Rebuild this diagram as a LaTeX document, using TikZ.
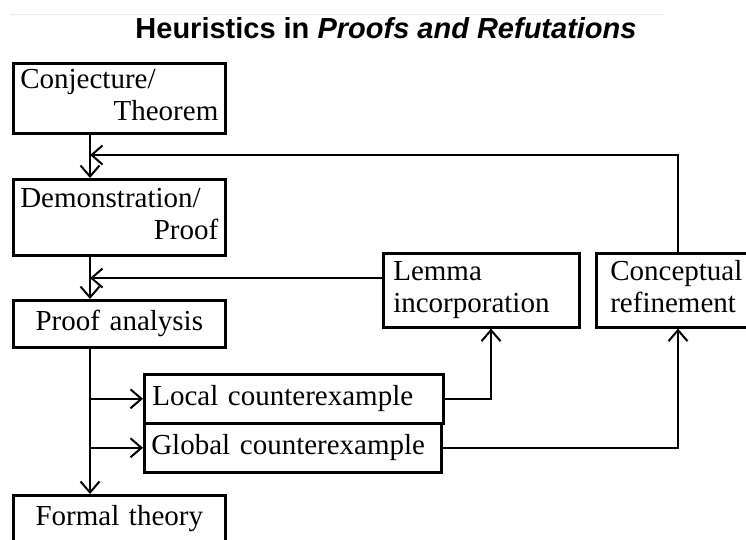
\documentclass[tikz,border=0pt]{standalone}
\usepackage{fontspec}
\setmainfont{Liberation Serif}
\newfontfamily\titlefont{Liberation Sans}
\usetikzlibrary{arrows.meta,calc}
\begin{document}
\begin{tikzpicture}[x=1pt,y=-1pt,
  box/.style={draw, line width=2.6pt, anchor=north west, inner xsep=7pt, inner ysep=0pt,
    font=\fontsize{29}{32}\selectfont},
  conn/.style={line width=2.4pt},
  arr/.style={conn, -{Straight Barb[length=11pt,width=19pt,line width=2pt]}}]
\useasboundingbox (0,0) rectangle (746,539);
\clip (0,0) rectangle (746,539);
% faint rule and title
\draw[black!8, line width=1pt] (10,14) -- (665,14);
\node[font=\titlefont\bfseries\fontsize{29}{32}\selectfont, inner sep=0pt] (title) at (386,28)
  {Heuristics in \textit{Proofs and Refutations}};
% boxes
\node[box, minimum width=212pt, minimum height=70pt, text width=198pt, align=left] (conj) at (12,62)
  {Conjecture/\strut\\\hspace*{\fill}Theorem\strut};
\node[box, minimum width=212pt, minimum height=76pt, text width=198pt, align=left] (demo) at (12,178)
  {Demonstration/\strut\\\hspace*{\fill}Proof\strut};
\node[box, minimum width=212pt, minimum height=47pt, text width=198pt, align=center] (pa) at (12,299)
  {Proof analysis\strut};
\node[box, minimum width=297pt, minimum height=49pt, text width=283pt, align=left, inner xsep=8pt] (local) at (143,373)
  {Local counterexample\strut};
\node[box, minimum width=297pt, minimum height=49pt, text width=283pt, align=left, inner xsep=6pt] (global) at (143,422)
  {Global counterexample\strut};
\node[box, minimum width=212pt, minimum height=48pt, text width=198pt, align=center] (formal) at (12,494)
  {Formal theory\strut};
\node[box, minimum width=190pt, minimum height=74pt, text width=176pt, align=left, inner xsep=10pt] (lemma) at (382,252)
  {Lemma\strut\\incorporation\strut};
\node[box, minimum width=166pt, minimum height=74pt, text width=152pt, align=left, inner xsep=14pt] (concept) at (595,252)
  {Conceptual\strut\\refinement\strut};
% helper coordinates
\coordinate (spine) at (90,0);
\coordinate (fb) at (0,155);
\coordinate (lx) at (491,0);
\coordinate (cx) at (678,0);
\coordinate (lemin) at ($(lemma.north west)!0.34!(lemma.south west)$);
% main spine
\draw[arr] (conj.south -| spine) -- (demo.north -| spine);
\draw[arr] (demo.south -| spine) -- (pa.north -| spine);
\draw[arr] (pa.south -| spine) -- (formal.north -| spine);
% branches to counterexamples
\draw[arr] (spine |- local.west) -- (local.west);
\draw[arr] (spine |- global.west) -- (global.west);
% counterexamples to remedies
\draw[arr] (local.east) -| (lemma.south -| lx);
\draw[arr] (global.east) -| (concept.south -| cx);
% feedback
\draw[arr] (lemin) -- (lemin -| spine);
\draw[arr] (concept.north -| cx) |- (fb -| spine);
\end{tikzpicture}
\end{document}
